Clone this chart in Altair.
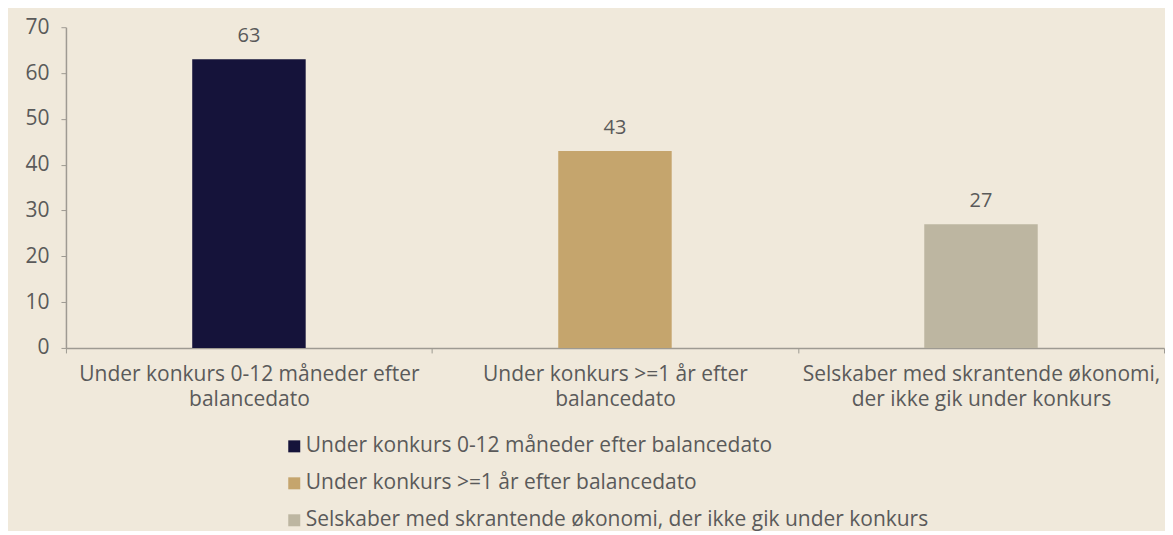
import altair as alt
import pandas as pd

categories = [
    "Under konkurs 0-12 måneder efter balancedato",
    "Under konkurs >=1 år efter balancedato",
    "Selskaber med skrantende økonomi, der ikke gik under konkurs",
]
values = [63, 43, 27]
colors = ["#15133A", "#C5A56D", "#BDB6A1"]
axis_label_lines = [
    ["Under konkurs 0-12 måneder efter", "balancedato"],
    ["Under konkurs >=1 år efter", "balancedato"],
    ["Selskaber med skrantende økonomi,", "der ikke gik under konkurs"],
]
y_ticks = [0, 10, 20, 30, 40, 50, 60, 70]

df = pd.DataFrame({"cat": categories, "val": values})

expr = "''"
for c, lines in zip(reversed(categories), reversed(axis_label_lines)):
    arr = "[" + ", ".join("'" + l + "'" for l in lines) + "]"
    expr = f"datum.value == '{c}' ? {arr} : ({expr})"

FONT = "Open Sans"
TXT = "#5A5A5A"
FS = 21
AX = "#9E9A92"

base = alt.Chart(df).encode(
    x=alt.X(
        "cat:N",
        sort=categories,
        scale=alt.Scale(paddingInner=0, paddingOuter=0),
        axis=alt.Axis(
            title=None,
            labelAngle=0,
            labelExpr=expr,
            labelFontSize=FS,
            labelColor=TXT,
            labelFont=FONT,
            labelLineHeight=25,
            labelPadding=11,
            labelLimit=0,
            tickBand="extent",
            tickSize=5,
            tickColor=AX,
            domainColor=AX,
            domainWidth=1.5,
            grid=False,
        ),
    )
)

bars = base.mark_bar(width={"band": 0.31}).encode(
    y=alt.Y(
        "val:Q",
        scale=alt.Scale(domain=[0, 70], nice=False),
        axis=alt.Axis(
            title=None,
            values=y_ticks,
            labelFontSize=FS,
            labelColor=TXT,
            labelFont=FONT,
            labelPadding=12,
            tickSize=5,
            tickColor=AX,
            domainColor=AX,
            domainWidth=1.5,
            grid=False,
        ),
    ),
    color=alt.Color(
        "cat:N",
        sort=categories,
        scale=alt.Scale(domain=categories, range=colors),
        legend=alt.Legend(
            title=None,
            orient="none",
            legendX=218,
            legendY=409,
            direction="vertical",
            symbolType="square",
            symbolSize=144,
            symbolStrokeWidth=0,
            labelFontSize=FS,
            labelColor=TXT,
            labelFont=FONT,
            labelOffset=1,
            rowPadding=15,
            labelLimit=900,
            padding=0,
        ),
    ),
)

labels = base.mark_text(
    baseline="bottom", dy=-13, fontSize=20, color=TXT, font=FONT
).encode(y=alt.Y("val:Q"), text=alt.Text("val:Q"))

chart = (
    alt.layer(bars, labels)
    .properties(
        width=1099,
        height=321,
        background="#F0E9DB",
        padding={"left": 16, "top": 8, "right": 0, "bottom": 0},
    )
    .configure_view(stroke=None)
)

chart.save("out.html", embed_options={"renderer": "svg", "actions": False})
